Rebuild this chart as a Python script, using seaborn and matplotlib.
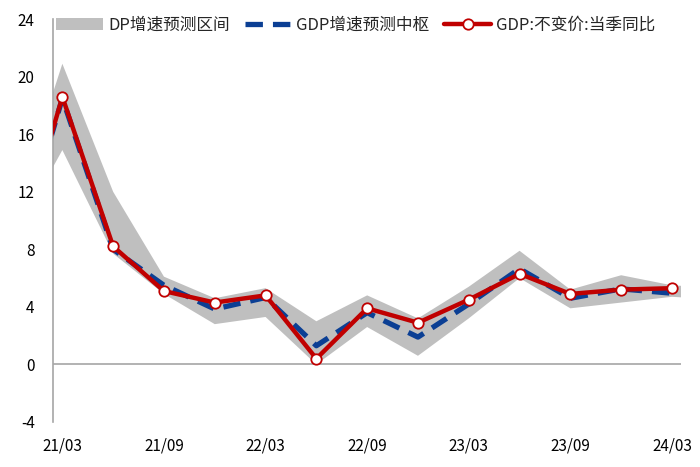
import numpy as np
import pandas as pd
import matplotlib
matplotlib.use('Agg')
import matplotlib.pyplot as plt
import seaborn as sns
from matplotlib.lines import Line2D
from matplotlib.patches import Patch

# ---------------- data ----------------
quarters = ['20/12', '21/03', '21/06', '21/09', '21/12', '22/03', '22/06',
            '22/09', '22/12', '23/03', '23/06', '23/09', '23/12', '24/03', '24/06']
gdp_actual = [6.5, 18.6, 8.2, 5.1, 4.3, 4.8, 0.4, 3.9, 2.9, 4.5, 6.3, 4.9, 5.2, 5.3, np.nan]
gdp_center = [6.5, 18.5, 8.0, 5.5, 3.85, 4.65, 1.3, 3.6, 1.9, 4.2, 6.65, 4.6, 5.25, 4.95, np.nan]
band_upper = [10.0, 20.9, 12.0, 6.1, 4.6, 5.3, 3.0, 4.8, 3.2, 5.4, 7.9, 5.2, 6.2, 5.5, 5.3]
band_lower = [8.5, 14.9, 7.7, 4.9, 2.8, 3.3, 0.0, 2.6, 0.6, 3.2, 6.0, 3.9, 4.3, 4.7, 4.5]
tick_labels = ['21/03', '21/09', '22/03', '22/09', '23/03', '23/09', '24/03']

legend_labels = ['DP增速预测区间', 'GDP增速预测中枢', 'GDP:不变价:当季同比']

df = pd.DataFrame({
    'idx': np.arange(len(quarters)),
    'quarter': quarters,
    'actual': gdp_actual,
    'center': gdp_center,
    'upper': band_upper,
    'lower': band_lower,
})

# ---------------- style ----------------
sns.set_style('white')
plt.rcParams['font.family'] = ['Noto Sans CJK SC', 'DejaVu Sans']
plt.rcParams['axes.unicode_minus'] = False

GRAY = '#BFBFBF'
BLUE = '#0B3F94'
RED = '#C00000'
AXIS = '#A6A6A6'

fig = plt.figure(figsize=(7, 4.67), dpi=100)
ax = fig.add_axes([0.0753, 0.0964, 0.8977, 0.8626])

ax.fill_between(df['idx'], df['lower'], df['upper'], color=GRAY, lw=0, zorder=1)
sns.lineplot(data=df, x='idx', y='center', ax=ax, color=BLUE, lw=3.8,
             linestyle=(0, (3.3, 1.9)), zorder=2)
sns.lineplot(data=df, x='idx', y='actual', ax=ax, color=RED, lw=3.2,
             marker='o', markersize=7.5, markerfacecolor='white',
             markeredgecolor=RED, markeredgewidth=1.3, zorder=3)

ax.axhline(0, color=AXIS, lw=1.2, zorder=0.5)

ax.set_xlim(0.81, 13.18)
ax.set_ylim(-4, 24)
ax.set_yticks(np.arange(-4, 25, 4))
ax.set_xticks([1, 3, 5, 7, 9, 11, 13])
ax.set_xticklabels(tick_labels)
ax.set_xlabel('')
ax.set_ylabel('')
ax.tick_params(axis='both', length=0, labelsize=11, colors='black')
ax.tick_params(axis='y', pad=13)
ax.tick_params(axis='x', pad=11)

for s in ['top', 'right', 'bottom']:
    ax.spines[s].set_visible(False)
ax.spines['left'].set_color(AXIS)
ax.spines['left'].set_linewidth(1.2)

handles = [
    Patch(facecolor=GRAY, edgecolor='none'),
    Line2D([], [], color=BLUE, lw=3.8, linestyle=(0, (3.3, 1.9))),
    Line2D([], [], color=RED, lw=3.2, marker='o', markersize=7.5,
           markerfacecolor='white', markeredgecolor=RED, markeredgewidth=1.3),
]
leg = fig.legend(handles, legend_labels, loc='center left',
                 bbox_to_anchor=(0.071, 0.946), ncol=3, frameon=False,
                 fontsize=12, handlelength=2.8, handleheight=0.8,
                 handletextpad=0.3, columnspacing=0.9, borderaxespad=0)

fig.savefig('out.png', dpi=100)
